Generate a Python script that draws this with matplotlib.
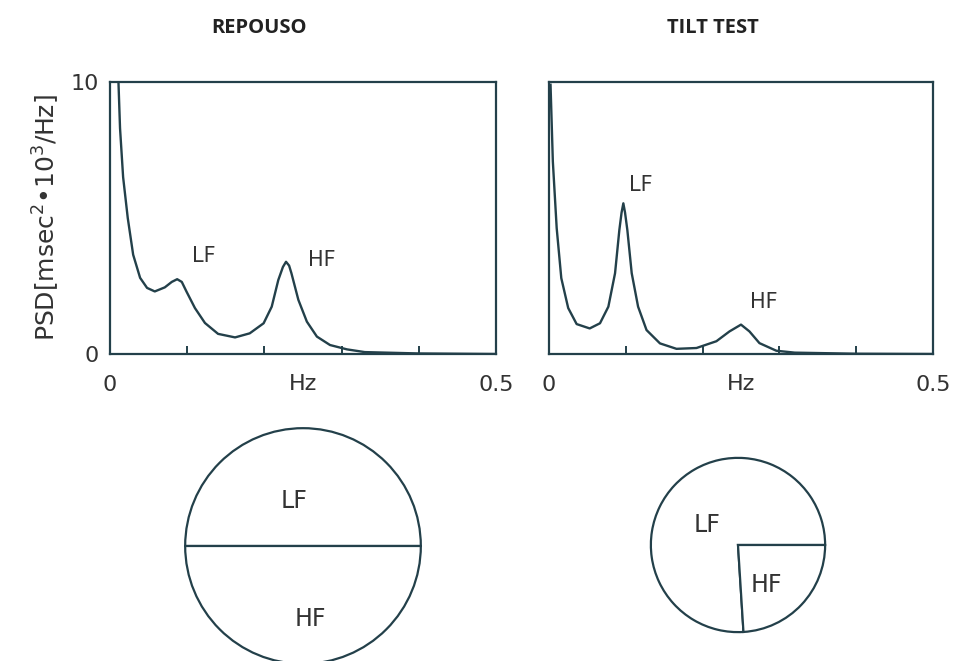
import numpy as np
import matplotlib
matplotlib.use("Agg")
import matplotlib.pyplot as plt

# 功率谱密度曲线
hz_rest = [0.011, 0.013, 0.017, 0.023, 0.030, 0.039, 0.048, 0.058, 0.071, 0.080, 0.087,
           0.093, 0.099, 0.110, 0.123, 0.140, 0.162, 0.181, 0.199, 0.2095, 0.218, 0.224,
           0.228, 0.232, 0.235, 0.244, 0.255, 0.268, 0.285, 0.307, 0.330, 0.400, 0.500]
psd_rest = [9.96, 8.3, 6.5, 5.0, 3.65, 2.8, 2.43, 2.3, 2.45, 2.65, 2.75,
            2.65, 2.3, 1.69, 1.14, 0.74, 0.61, 0.76, 1.13, 1.74, 2.72, 3.2,
            3.39, 3.25, 2.97, 1.99, 1.19, 0.64, 0.33, 0.17, 0.07, 0.02, 0.0]

hz_tilt = [0.002, 0.005, 0.010, 0.016, 0.025, 0.036, 0.053, 0.0664, 0.0773, 0.086, 0.0916,
           0.0945, 0.0968, 0.099, 0.102, 0.1077, 0.116, 0.127, 0.1445, 0.166, 0.192, 0.218,
           0.235, 0.250, 0.261, 0.274, 0.296, 0.320, 0.400, 0.500]
psd_tilt = [9.9, 7.08, 4.63, 2.79, 1.69, 1.10, 0.94, 1.13, 1.74, 2.97, 4.56,
            5.2, 5.54, 5.2, 4.56, 2.97, 1.74, 0.88, 0.39, 0.19, 0.22, 0.47,
            0.83, 1.08, 0.83, 0.40, 0.12, 0.05, 0.01, 0.0]

# 饼图比例
pie_rest = [50, 50]
pie_tilt = [76, 24]
pie_labels = ["LF", "HF"]

titles = ["REPOUSO", "TILT TEST"]
xticks = [0, 0.1, 0.2, 0.3, 0.4, 0.5]
xtick_labels = ["0", "", "", "", "", "0.5"]

dark = "#23404a"
W, H = 956, 661

fig = plt.figure(figsize=(9.56, 6.61), dpi=100)

def box(x0, y0, x1, y1):
    # 像素坐标 -> figure 坐标
    return [x0 / W, 1 - y1 / H, (x1 - x0) / W, (y1 - y0) / H]

ax1 = fig.add_axes(box(110, 82, 496, 354))
ax2 = fig.add_axes(box(549, 82, 933, 354))

for ax, hz, psd in [(ax1, hz_rest, psd_rest), (ax2, hz_tilt, psd_tilt)]:
    ax.plot(hz, psd, color=dark, lw=1.7, solid_joinstyle="round")
    ax.set_xlim(0, 0.5)
    ax.set_ylim(0, 10)
    for s in ax.spines.values():
        s.set_color(dark)
        s.set_linewidth(1.6)
    ax.set_xticks(xticks)
    ax.set_xticklabels(xtick_labels)
    ax.tick_params(axis="x", direction="in", length=6, width=1.4, color=dark,
                   pad=15, labelsize=16, labelcolor="#333333")
    ax.set_xlabel("Hz", fontsize=16, color="#333333")
    ax.xaxis.set_label_coords(0.5, -0.075)
    ax.xaxis.label.set_va("top")

ax1.set_yticks([0, 10])
ax1.set_yticklabels(["0", "10"])
ax1.tick_params(axis="y", length=0, pad=8, labelsize=16, labelcolor="#333333")
ax1.set_ylabel(r"PSD[msec$^2$•10$^3$/Hz]", fontsize=18, color="#333333", labelpad=6)
ax2.set_yticks([])

ax1.text(0.122, 3.6, "LF", fontsize=15, color="#333333", ha="center", va="center")
ax1.text(0.274, 3.45, "HF", fontsize=15, color="#333333", ha="center", va="center")
ax2.text(0.12, 6.2, "LF", fontsize=15, color="#333333", ha="center", va="center")
ax2.text(0.28, 1.9, "HF", fontsize=15, color="#333333", ha="center", va="center")

fig.text(259 / W, 1 - 28 / H, titles[0], fontsize=14.5, fontweight="bold",
         family="Open Sans", ha="center", va="center", color="#222222")
fig.text(713 / W, 1 - 28 / H, titles[1], fontsize=14.5, fontweight="bold",
         family="Open Sans", ha="center", va="center", color="#222222")

# 饼图
pa1 = fig.add_axes(box(303 - 119, 546 - 119, 303 + 119, 546 + 119))
pa2 = fig.add_axes(box(738 - 88, 545 - 88, 738 + 88, 545 + 88))
for pa, vals in [(pa1, pie_rest), (pa2, pie_tilt)]:
    pa.pie(vals, startangle=0, counterclock=True, radius=1.0,
           wedgeprops=dict(facecolor="white", edgecolor=dark, linewidth=1.6))
    pa.set_xlim(-1.01, 1.01)
    pa.set_ylim(-1.01, 1.01)
    pa.set_aspect("equal")
    pa.axis("off")

pa1.text(-0.08, 0.38, pie_labels[0], fontsize=17, color="#333333", ha="center", va="center")
pa1.text(0.06, -0.62, pie_labels[1], fontsize=17, color="#333333", ha="center", va="center")
pa2.text(-0.36, 0.23, pie_labels[0], fontsize=17, color="#333333", ha="center", va="center")
pa2.text(0.33, -0.46, pie_labels[1], fontsize=17, color="#333333", ha="center", va="center")

fig.savefig("out.png", dpi=100)
